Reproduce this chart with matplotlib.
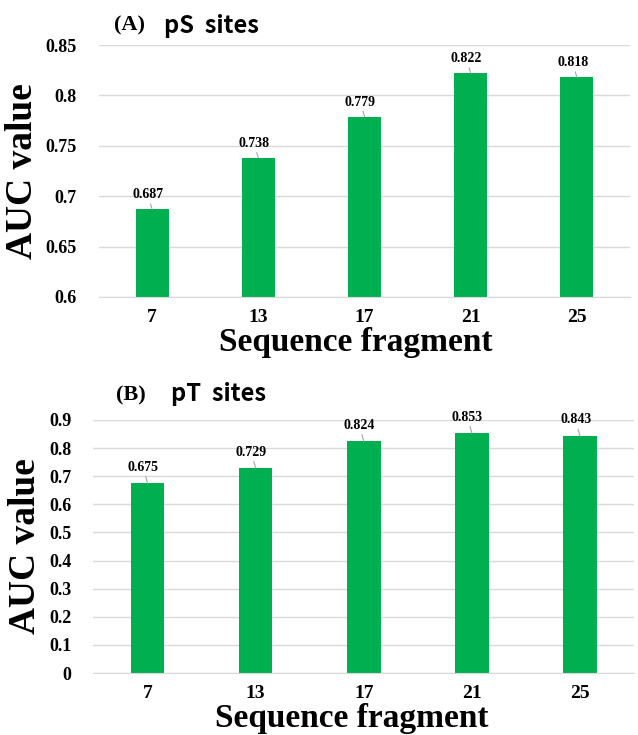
import matplotlib.pyplot as plt
import numpy as np

fragments = ['7', '13', '17', '21', '25']
auc_ps = [0.687, 0.738, 0.779, 0.822, 0.818]
auc_pt = [0.675, 0.729, 0.824, 0.853, 0.843]

green = '#00B050'
serif = 'Liberation Serif'
W, H = 638, 735

fig = plt.figure(figsize=(W / 100, H / 100), dpi=100)


def px_box(left, right, bottom, top):
    return [left / W, 1 - bottom / H, (right - left) / W, (bottom - top) / H]


def draw_panel(ax, vals, ylim, yticks, lbl_off, xlab_xy):
    x = np.arange(len(fragments))
    ax.bar(x, vals, width=0.31, color=green, zorder=3)
    ax.set_xlim(-0.5, len(fragments) - 0.5)
    ax.set_ylim(*ylim)
    ax.set_yticks(yticks)
    ax.set_yticklabels([f'{t:g}' for t in yticks], fontfamily=serif,
                       fontweight='bold', fontsize=13)
    ax.set_xticks(x)
    ax.set_xticklabels(fragments, fontfamily=serif, fontweight='bold', fontsize=14)
    ax.tick_params(axis='both', length=0)
    ax.tick_params(axis='y', pad=16)
    ax.tick_params(axis='x', pad=9)
    ax.grid(axis='y', color='#d9d9d9', lw=1, zorder=0)
    for s in ['top', 'right', 'left']:
        ax.spines[s].set_visible(False)
    ax.spines['bottom'].set_color('#d9d9d9')
    ax.spines['bottom'].set_zorder(4)
    for xi, v in zip(x, vals):
        ax.annotate(f'{v:.3f}', xy=(xi, v), xytext=(xi - 0.04, v + lbl_off),
                    ha='center', va='bottom', fontfamily=serif, fontweight='bold',
                    fontsize=10,
                    arrowprops=dict(arrowstyle='-', color='#a6a6a6', lw=0.8,
                                    shrinkA=0, shrinkB=0))
    ax.set_ylabel('AUC value', fontfamily=serif, fontweight='bold', fontsize=27,
                  labelpad=4)
    ax.set_xlabel('Sequence fragment', fontfamily=serif, fontweight='bold',
                  fontsize=24)
    ax.xaxis.set_label_coords(*xlab_xy)


ax1 = fig.add_axes(px_box(99, 630, 297, 45))
draw_panel(ax1, auc_ps, (0.6, 0.85), [0.6, 0.65, 0.7, 0.75, 0.8, 0.85],
           0.008, (0.483, -0.12))

ax2 = fig.add_axes(px_box(93.5, 634, 673, 420))
draw_panel(ax2, auc_pt, (0, 0.9), [round(0.1 * i, 1) for i in range(10)],
           0.034, (0.477, -0.12))

fig.text(114 / W, 1 - 25 / H, '(A)', fontfamily=serif, fontweight='bold',
         fontsize=16, va='center', ha='left')
fig.text(164 / W, 1 - 26 / H, 'pS  sites', fontfamily='Noto Sans CJK KR',
         fontweight='bold', fontsize=17, va='center', ha='left')
fig.text(116 / W, 1 - 395 / H, '(B)', fontfamily=serif, fontweight='bold',
         fontsize=16, va='center', ha='left')
fig.text(171 / W, 1 - 394 / H, 'pT  sites', fontfamily='Noto Sans CJK KR',
         fontweight='bold', fontsize=17, va='center', ha='left')

fig.savefig('out.png', dpi=100)
